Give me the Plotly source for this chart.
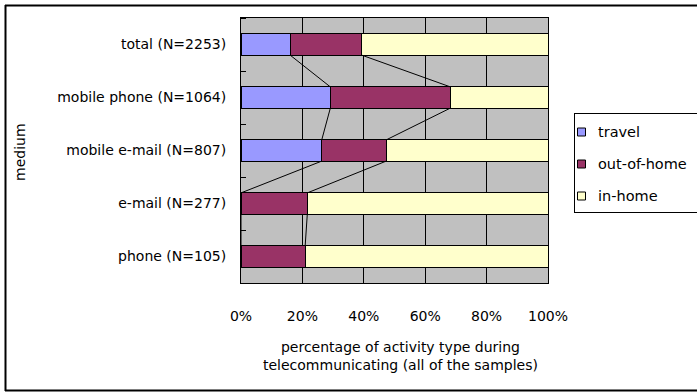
import plotly.graph_objects as go

categories = ["total (N=2253)", "mobile phone (N=1064)", "mobile e-mail (N=807)", "e-mail (N=277)", "phone (N=105)"]
travel = [16.0, 29.1, 26.3, 0.0, 0.0]
out_of_home = [23.3, 39.1, 21.0, 21.6, 20.9]
in_home = [round(100 - a - b, 1) for a, b in zip(travel, out_of_home)]
series_names = ["travel", "out-of-home", "in-home"]
colors = ["#9999FF", "#993366", "#FFFFCC"]
x_ticks = [0, 20, 40, 60, 80, 100]
x_ticklabels = ["0%", "20%", "40%", "60%", "80%", "100%"]

FONT = "DejaVu Sans"
W, H = 697, 392
L, R, T, B = 241, 149, 18, 109
PW, PH = W - L - R, H - T - B

pos = list(range(len(categories)))
bw = 0.4

fig = go.Figure()
for name, vals, col in zip(series_names, [travel, out_of_home, in_home], colors):
    fig.add_trace(go.Bar(
        y=pos, x=vals, name=name, orientation="h", width=bw,
        marker=dict(color=col, line=dict(color="black", width=1)),
        showlegend=False,
    ))

# series lines (Excel style) connecting cumulative boundaries
cum1 = travel
cum2 = [a + b for a, b in zip(travel, out_of_home)]
lx, ly = [], []
for cum in (cum1, cum2):
    for i in range(len(pos) - 1):
        lx += [cum[i], cum[i + 1], None]
        ly += [pos[i] + bw / 2, pos[i + 1] - bw / 2, None]
fig.add_trace(go.Scatter(x=lx, y=ly, mode="lines", line=dict(color="black", width=1),
                         showlegend=False, hoverinfo="skip"))


def px2x(px):
    return (px - L) / PW


def py2y(py):
    return 1 - (py - T) / PH


def hline(x0, x1, y, w):
    return dict(type="line", xref="paper", yref="paper", x0=px2x(x0), x1=px2x(x1),
                y0=py2y(y), y1=py2y(y), line=dict(color="black", width=w))


def vline(x, y0, y1, w):
    return dict(type="line", xref="paper", yref="paper", x0=px2x(x), x1=px2x(x),
                y0=py2y(y0), y1=py2y(y1), line=dict(color="black", width=w))


annotations = [
    dict(text="medium", x=px2x(20), y=py2y(152), xref="paper", yref="paper",
         xanchor="center", yanchor="middle",
         textangle=-90, showarrow=False, font=dict(family=FONT, size=14)),
    dict(text="percentage of activity type during<br>telecommunicating (all of the samples)",
         x=px2x(400), y=py2y(356), xref="paper", yref="paper", showarrow=False,
         xanchor="center", yanchor="middle",
         font=dict(family=FONT, size=14)),
]
shapes = [
    # outer frame (right side lies beyond the picture)
    hline(5, 700, 5.5, 2),
    hline(5, 700, 390.5, 2),
    vline(5.5, 5, 391, 2),
    # legend box
    hline(574, 700, 113.5, 1),
    hline(574, 700, 212.5, 1),
    vline(574.5, 113, 213, 1),
]
legend_y = [132, 164, 196]
for name, col, ly_ in zip(series_names, colors, legend_y):
    shapes.append(dict(type="rect", xref="paper", yref="paper",
                       x0=px2x(577.5), x1=px2x(585.5), y0=py2y(ly_ + 4), y1=py2y(ly_ - 4),
                       line=dict(color="black", width=1), fillcolor=col))
    annotations.append(dict(text=name, x=px2x(596), y=py2y(ly_), xref="paper", yref="paper",
                            xanchor="left", yanchor="middle", showarrow=False,
                            font=dict(family=FONT, size=14.5)))

fig.update_layout(
    width=W, height=H,
    margin=dict(l=L, r=R, t=T, b=B, autoexpand=False),
    paper_bgcolor="white", plot_bgcolor="#C0C0C0",
    barmode="stack",
    showlegend=False,
    font=dict(family=FONT, size=14, color="black"),
    xaxis=dict(
        range=[0, 100], tickvals=x_ticks, ticktext=x_ticklabels,
        showgrid=True, gridcolor="black", gridwidth=1,
        ticks="inside", ticklen=4, tickcolor="black",
        showline=True, linecolor="black", linewidth=1, mirror=True,
        ticklabelstandoff=20, zeroline=False, fixedrange=True,
        tickfont=dict(family=FONT, size=14),
    ),
    yaxis=dict(
        range=[len(pos) - 0.5, -0.5], tickvals=pos, ticktext=categories,
        showgrid=False, ticks="", showline=True, linecolor="black", linewidth=1,
        mirror=True, zeroline=False, ticklabelstandoff=11,
        tickfont=dict(family=FONT, size=14),
        minor=dict(tick0=0.5, dtick=1, ticks="inside", ticklen=5, tickcolor="black", showgrid=False),
    ),
    annotations=annotations,
    shapes=shapes,
)

fig.write_html("out.html", config={"displayModeBar": False},
               post_script="document.body.style.margin='0';document.body.style.overflow='hidden';")
